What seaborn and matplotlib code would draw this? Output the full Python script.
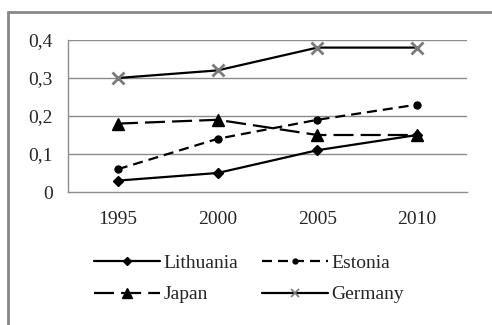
import matplotlib
matplotlib.use("Agg")
import matplotlib.pyplot as plt
from matplotlib.lines import Line2D
import seaborn as sns
import pandas as pd

years = ["1995", "2000", "2005", "2010"]
lithuania = [0.03, 0.05, 0.11, 0.15]
estonia = [0.06, 0.14, 0.19, 0.23]
japan = [0.18, 0.19, 0.15, 0.15]
germany = [0.30, 0.32, 0.38, 0.38]
y_ticks = [0.0, 0.1, 0.2, 0.3, 0.4]
y_labels = ["0", "0,1", "0,2", "0,3", "0,4"]

sns.set_style("white")
plt.rcParams["font.family"] = ["Liberation Serif", "DejaVu Serif"]

fig = plt.figure(figsize=(4.92, 3.25), dpi=100)
ax = fig.add_axes([68 / 492, 1 - 192 / 325, (467 - 68) / 492, (192 - 40) / 325])

grid_c = "#8c8c8c"
ax.set_ylim(0, 0.4)
ax.set_xlim(-0.5, 3.5)
for v in y_ticks[1:]:
    ax.axhline(v, color=grid_c, lw=1.0, zorder=0)

series = [
    ("Lithuania", lithuania, dict(ls="-", marker="D", ms=5.5, mfc="black", mec="black", mew=1)),
    ("Estonia", estonia, dict(ls=(0, (4.5, 2.7)), marker="o", ms=5, mfc="black", mec="black", mew=1)),
    ("Japan", japan, dict(ls=(0, (9, 3.2)), marker="^", ms=8.5, mfc="black", mec="black", mew=1)),
    ("Germany", germany, dict(ls="-", marker="x", ms=8, mfc="none", mec="#7a7a7a", mew=2)),
]

handles = {}
for name, vals, st in series:
    df = pd.DataFrame({"year": years, "value": vals})
    sns.lineplot(data=df, x="year", y="value", ax=ax, color="black",
                 linestyle=st["ls"], lw=1.6, marker=st["marker"], markersize=st["ms"],
                 markerfacecolor=st["mfc"], markeredgecolor=st["mec"],
                 markeredgewidth=st["mew"], zorder=3)
    lms = st["ms"] * (0.7 if name != "Japan" else 0.9)
    lmew = 1.2 if name == "Germany" else 1
    handles[name] = Line2D([], [], color="black", ls=st["ls"], lw=1.6, marker=st["marker"],
                           markersize=lms, markerfacecolor=st["mfc"],
                           markeredgecolor=st["mec"], markeredgewidth=lmew, label=name)

ax.set_xlabel("")
ax.set_ylabel("")
ax.set_xlim(-0.5, 3.5)
ax.set_ylim(0, 0.4)
ax.set_yticks(y_ticks)
ax.set_yticklabels(y_labels, fontsize=14)
ax.set_xticks(range(len(years)))
ax.set_xticklabels(years, fontsize=14)
ax.set_xticks([-0.5, 0.5, 1.5, 2.5, 3.5], minor=True)
ax.tick_params(axis="x", which="major", length=0, pad=14)
ax.tick_params(axis="x", which="minor", length=5, color=grid_c, width=1)
ax.tick_params(axis="y", length=5, color=grid_c, width=1, pad=6)

for s in ["top", "right"]:
    ax.spines[s].set_visible(False)
for s in ["left", "bottom"]:
    ax.spines[s].set_color(grid_c)
    ax.spines[s].set_linewidth(1.0)

# legend entries read row by row: Lithuania, Estonia / Japan, Germany
order = ["Lithuania", "Japan", "Estonia", "Germany"]
fig.legend(handles=[handles[n] for n in order], ncol=2, loc="center",
           bbox_to_anchor=(249 / 492, 1 - 279 / 325),
           frameon=False, fontsize=14, handlelength=3.4, handletextpad=0.2,
           columnspacing=1.2, labelspacing=0.7, numpoints=1)

# outer chart frame (top and left edges)
fig.add_artist(Line2D([8 / 492, 8 / 492], [0, 1 - 12 / 325], color="#888888", lw=2.0,
                      transform=fig.transFigure))
fig.add_artist(Line2D([8 / 492, 1], [1 - 12 / 325, 1 - 12 / 325], color="#888888", lw=2.0,
                      transform=fig.transFigure))

fig.savefig("out.png", dpi=100)
